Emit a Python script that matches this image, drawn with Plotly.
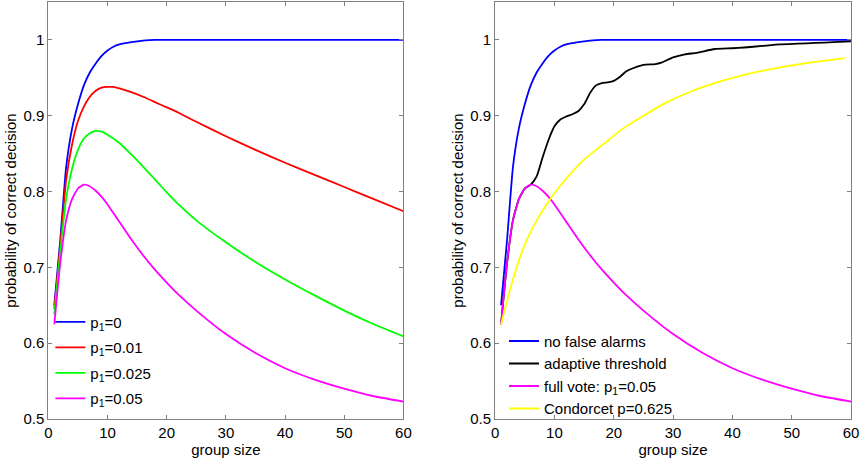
import plotly.graph_objects as go
from plotly.subplots import make_subplots

# group sizes and probabilities
blue_x = [1, 2, 3, 4, 5, 6, 7, 8, 9, 10, 11, 12, 14, 16, 18, 20, 25, 30, 40, 50, 60]
blue_y = [0.65, 0.735, 0.832, 0.883, 0.915, 0.94, 0.957, 0.969, 0.979, 0.986,
          0.991, 0.994, 0.997, 0.999, 1.0, 1.0, 1.0, 1.0, 1.0, 1.0, 1.0]

red_x = [1, 2, 3, 4, 5, 6, 7, 8, 9, 10, 11, 12, 14, 16, 18, 20, 22, 25, 30,
         35, 40, 45, 50, 55, 60]
red_y = [0.645, 0.728, 0.815, 0.862, 0.893, 0.912, 0.925, 0.933, 0.937, 0.938,
         0.938, 0.936, 0.931, 0.925, 0.918, 0.911, 0.904, 0.892, 0.873, 0.855,
         0.838, 0.822, 0.806, 0.79, 0.774]

green_x = [1, 2, 3, 4, 5, 6, 7, 8, 9, 10, 12, 14, 16, 18, 20, 22, 25, 30, 35,
           40, 45, 50, 55, 60]
green_y = [0.638, 0.72, 0.79, 0.83, 0.855, 0.87, 0.877, 0.88, 0.879, 0.875,
           0.864, 0.849, 0.833, 0.816, 0.799, 0.783, 0.762, 0.733, 0.707,
           0.684, 0.663, 0.643, 0.625, 0.609]

magenta_x = [1, 2, 3, 4, 5, 6, 7, 8, 9, 10, 12, 14, 16, 18, 20, 22, 25, 30,
             35, 40, 45, 50, 55, 60]
magenta_y = [0.625, 0.705, 0.762, 0.79, 0.804, 0.809, 0.807, 0.801, 0.793,
             0.783, 0.76, 0.737, 0.716, 0.697, 0.68, 0.664, 0.643, 0.612,
             0.587, 0.567, 0.552, 0.54, 0.53, 0.523]

black_x = [1, 2, 3, 4, 5, 6, 7, 8, 9, 10, 11, 12, 13, 14, 15, 16, 17, 18, 19,
           20, 21, 22, 23, 25, 27, 28, 30, 32, 34, 37, 40, 42, 45, 48, 51, 54,
           57, 60]
black_y = [0.625, 0.705, 0.762, 0.79, 0.804, 0.809, 0.82, 0.845, 0.868, 0.886,
           0.895, 0.899, 0.902, 0.906, 0.915, 0.93, 0.94, 0.943, 0.944, 0.946,
           0.951, 0.958, 0.962, 0.967, 0.968, 0.97, 0.977, 0.981, 0.983, 0.988,
           0.989, 0.99, 0.992, 0.994, 0.995, 0.996, 0.997, 0.998]

yellow_x = [1, 3, 5, 7, 9, 11, 13, 15, 17, 19, 21, 25, 29, 33, 37, 41, 45, 49,
            53, 57, 59]
yellow_y = [0.625, 0.684, 0.73, 0.762, 0.787, 0.808, 0.826, 0.842, 0.855,
            0.867, 0.88, 0.9, 0.918, 0.932, 0.943, 0.952, 0.959, 0.965, 0.97,
            0.974, 0.976]

left_series = [
    (blue_x, blue_y, "#0000ff", "p<sub>1</sub>=0"),
    (red_x, red_y, "#ff0000", "p<sub>1</sub>=0.01"),
    (green_x, green_y, "#00ff00", "p<sub>1</sub>=0.025"),
    (magenta_x, magenta_y, "#ff00ff", "p<sub>1</sub>=0.05"),
]
right_series = [
    (blue_x, blue_y, "#0000ff", "no false alarms"),
    (black_x, black_y, "#000000", "adaptive threshold"),
    (magenta_x, magenta_y, "#ff00ff", "full vote: p<sub>1</sub>=0.05"),
    (yellow_x, yellow_y, "#ffff00", "Condorcet p=0.625"),
]

fig = make_subplots(rows=1, cols=2)

for i, (xs, ys, col, name) in enumerate(left_series):
    fig.add_trace(go.Scatter(x=xs, y=ys, mode="lines", name=name,
                             line=dict(color=col, width=1.8, shape="spline", smoothing=0.5),
                             legend="legend", legendgroup="l%d" % i),
                  row=1, col=1)

for i, (xs, ys, col, name) in enumerate(right_series):
    fig.add_trace(go.Scatter(x=xs, y=ys, mode="lines", name=name,
                             line=dict(color=col, width=1.8, shape="spline", smoothing=0.5),
                             legend="legend2", legendgroup="r%d" % i),
                  row=1, col=2)

axis_style = dict(showline=True, linecolor="#808080", linewidth=1, mirror="ticks",
                  ticks="inside", ticklen=4, tickcolor="#808080", showgrid=False,
                  zeroline=False, tickfont=dict(size=15, color="black"))

fig.update_xaxes(range=[0, 60], dtick=10, **axis_style)
fig.update_yaxes(range=[0.5, 1.05], tickvals=[0.5, 0.6, 0.7, 0.8, 0.9, 1.0],
                 ticktext=["0.5", "0.6", "0.7", "0.8", "0.9", "1"], **axis_style)
fig.update_xaxes(title=dict(text="group size", font=dict(size=15), standoff=2))
fig.update_yaxes(title=dict(text="probability of correct decision", font=dict(size=15), standoff=3))

fig.update_layout(
    width=868, height=458,
    margin=dict(l=0, r=0, t=2, b=39),
    plot_bgcolor="white", paper_bgcolor="white",
    font=dict(family="Liberation Sans, Arial, sans-serif", size=15, color="black"),
    xaxis=dict(domain=[45 / 868, 405 / 868]),
    xaxis2=dict(domain=[498 / 868, 859 / 868]),
    legend=dict(x=47 / 868, y=0.272, xanchor="left", yanchor="top",
                bgcolor="rgba(0,0,0,0)", font=dict(size=15), tracegroupgap=3,
                itemwidth=30),
    legend2=dict(x=507 / 868, y=0.226, xanchor="left", yanchor="top",
                 bgcolor="rgba(0,0,0,0)", font=dict(size=15), tracegroupgap=0,
                 itemwidth=30),
)

fig.write_html("out.html", config={"displayModeBar": False},
               post_script="document.body.style.margin='0';")
